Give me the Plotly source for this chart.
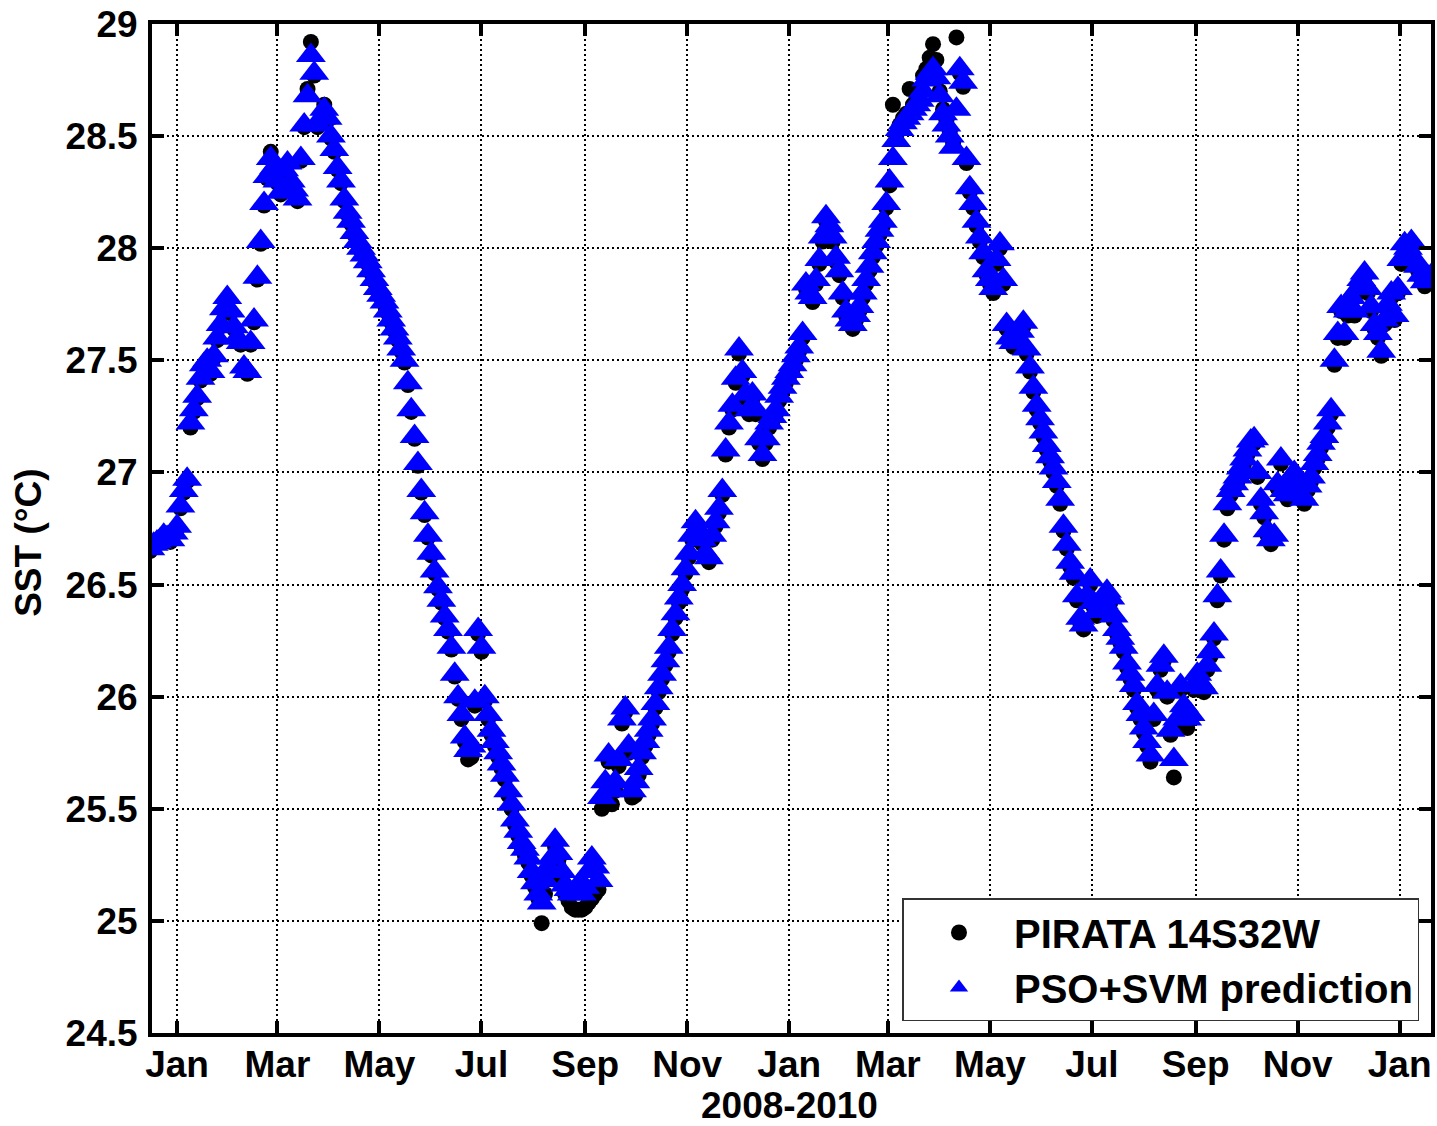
import pandas as pd
import plotly.graph_objects as go

# ---- data: one sample every 2 days, starting 2007-12-16 ----
start_date = "2007-12-16"
step = "2D"

pso_svm = [
    # Dec 2007 - Jan 2008
    26.66, 26.68, 26.69, 26.70, 26.72, 26.71, 26.70, 26.73, 26.76, 26.85,
    26.92, 26.97, 27.22, 27.28, 27.34, 27.42, 27.48, 27.50, 27.45, 27.52,
    27.60, 27.66, 27.73, 27.78, 27.72, 27.65, 27.60, 27.58, 27.47, 27.45,
    # Feb - Mar 2008
    27.58, 27.68, 27.87, 28.03, 28.20, 28.32, 28.40, 28.36, 28.30, 28.25,
    28.35, 28.38, 28.30, 28.26, 28.22, 28.40, 28.55, 28.68, 28.86, 28.78,
    28.55, 28.58, 28.62, 28.58, 28.50, 28.44, 28.36, 28.30, 28.22, 28.16,
    # Apr - May 2008
    28.12, 28.07, 28.03, 28.00, 27.97, 27.94, 27.90, 27.86, 27.82, 27.79,
    27.76, 27.72, 27.68, 27.64, 27.60, 27.55, 27.50, 27.40, 27.28, 27.16,
    27.04, 26.92, 26.82, 26.72, 26.64, 26.56, 26.49, 26.43, 26.36, 26.30,
    # Jun - Jul 2008
    26.22, 26.10, 26.00, 25.92, 25.82, 25.76, 25.78, 25.98, 26.30, 26.22,
    26.00, 25.92, 25.85, 25.80, 25.75, 25.70, 25.65, 25.58, 25.52, 25.45,
    25.40, 25.35, 25.32, 25.28, 25.22, 25.17, 25.12, 25.08, 25.18, 25.24,
    # Aug - Sep 2008
    25.28, 25.36, 25.30, 25.22, 25.16, 25.14, 25.12, 25.14, 25.16, 25.12,
    25.15, 25.22, 25.28, 25.24, 25.18, 25.55, 25.62, 25.74, 25.58, 25.62,
    25.72, 25.90, 25.95, 25.78, 25.58, 25.62, 25.68, 25.75, 25.80, 25.85,
    # Oct - Nov 2008
    25.90, 25.97, 26.04, 26.10, 26.16, 26.22, 26.30, 26.37, 26.44, 26.50,
    26.57, 26.64, 26.72, 26.78, 26.74, 26.70, 26.64, 26.62, 26.72, 26.78,
    26.84, 26.92, 27.10, 27.22, 27.30, 27.42, 27.55, 27.45, 27.35, 27.28,
    # Dec 2008 - Jan 2009
    27.35, 27.28, 27.15, 27.08, 27.15, 27.22, 27.25, 27.28, 27.34, 27.38,
    27.42, 27.45, 27.48, 27.52, 27.56, 27.62, 27.84, 27.80, 27.78, 27.86,
    27.95, 28.05, 28.14, 28.10, 28.05, 27.96, 27.90, 27.80, 27.72, 27.68,
    # Feb - Mar 2009
    27.66, 27.70, 27.74, 27.80, 27.86, 27.92, 27.98, 28.03, 28.08, 28.12,
    28.20, 28.30, 28.40, 28.48, 28.53, 28.56, 28.58, 28.60, 28.62, 28.64,
    28.66, 28.70, 28.75, 28.78, 28.80, 28.76, 28.68, 28.60, 28.55, 28.50,
    # Apr - May 2009
    28.45, 28.62, 28.80, 28.74, 28.40, 28.27, 28.20, 28.12, 28.05, 27.98,
    27.90, 27.86, 27.82, 27.95, 28.02, 27.86, 27.66, 27.60, 27.58, 27.60,
    27.63, 27.67, 27.55, 27.47, 27.38, 27.30, 27.24, 27.18, 27.12, 27.07,
    # Jun - Jul 2009
    27.02, 26.96, 26.88, 26.76, 26.68, 26.60, 26.55, 26.45, 26.35, 26.32,
    26.45, 26.52, 26.42, 26.38, 26.40, 26.42, 26.47, 26.44, 26.36, 26.30,
    26.26, 26.22, 26.15, 26.10, 26.05, 25.97, 25.92, 25.86, 25.80, 25.74,
    # Aug - Sep 2009
    25.92, 26.05, 26.14, 26.18, 26.02, 25.85, 25.72, 25.90, 26.05, 25.96,
    25.90, 25.92, 26.05, 26.10, 26.06, 26.04, 26.14, 26.20, 26.28, 26.45,
    26.56, 26.72, 26.86, 26.92, 26.95, 26.98, 27.02, 27.06, 27.10, 27.14,
    # Oct - Nov 2009
    27.15, 27.00, 26.88, 26.82, 26.74, 26.70, 26.72, 26.95, 27.06, 26.92,
    26.90, 26.96, 27.00, 26.94, 26.90, 26.88, 26.94, 26.98, 27.04, 27.08,
    27.13, 27.16, 27.22, 27.28, 27.50, 27.62, 27.74, 27.62, 27.72, 27.78,
    # Dec 2009 - Jan 2010
    27.72, 27.82, 27.86, 27.89, 27.82, 27.74, 27.66, 27.62, 27.54, 27.68,
    27.75, 27.80, 27.70, 27.82, 27.95, 28.02, 28.00, 28.03, 27.95, 27.92,
    27.88, 27.85, 27.87, 27.88,
]

pirata = [
    # Dec 2007 - Jan 2008
    26.65, 26.67, 26.68, 26.69, 26.71, 26.70, 26.69, 26.72, 26.75, 26.84,
    26.91, 26.96, 27.20, 27.27, 27.33, 27.41, 27.47, 27.49, 27.44, 27.51,
    27.59, 27.65, 27.72, 27.77, 27.71, 27.64, 27.59, 27.57, 27.46, 27.44,
    # Feb - Mar 2008
    27.57, 27.67, 27.86, 28.02, 28.19, 28.31, 28.43, 28.35, 28.29, 28.24,
    28.34, 28.37, 28.29, 28.25, 28.21, 28.39, 28.54, 28.71, 28.92, 28.77,
    28.54, 28.57, 28.64, 28.57, 28.49, 28.43, 28.35, 28.29, 28.21, 28.15,
    # Apr - May 2008
    28.11, 28.06, 28.02, 27.99, 27.96, 27.93, 27.89, 27.85, 27.81, 27.78,
    27.75, 27.71, 27.67, 27.63, 27.59, 27.54, 27.49, 27.39, 27.27, 27.15,
    27.03, 26.91, 26.81, 26.71, 26.63, 26.55, 26.48, 26.42, 26.35, 26.29,
    # Jun - Jul 2008
    26.21, 26.09, 25.99, 25.90, 25.80, 25.72, 25.73, 25.96, 26.28, 26.20,
    25.98, 25.90, 25.83, 25.78, 25.73, 25.68, 25.63, 25.56, 25.50, 25.43,
    25.38, 25.33, 25.29, 25.26, 25.20, 25.15, 25.10, 24.99, 25.12, 25.21,
    # Aug - Sep 2008
    25.25, 25.33, 25.27, 25.19, 25.12, 25.09, 25.06, 25.05, 25.05, 25.05,
    25.06, 25.08, 25.10, 25.12, 25.14, 25.50, 25.52, 25.71, 25.52, 25.58,
    25.69, 25.88, 25.93, 25.75, 25.55, 25.56, 25.65, 25.73, 25.78, 25.83,
    # Oct - Nov 2008
    25.88, 25.95, 26.02, 26.08, 26.14, 26.20, 26.28, 26.35, 26.42, 26.48,
    26.55, 26.62, 26.70, 26.76, 26.72, 26.68, 26.62, 26.60, 26.70, 26.76,
    26.82, 26.90, 27.08, 27.20, 27.28, 27.40, 27.53, 27.43, 27.33, 27.26,
    # Dec 2008 - Jan 2009
    27.33, 27.26, 27.13, 27.06, 27.13, 27.20, 27.23, 27.26, 27.32, 27.36,
    27.40, 27.43, 27.46, 27.50, 27.54, 27.60, 27.82, 27.78, 27.76, 27.84,
    27.93, 28.03, 28.12, 28.08, 28.03, 27.94, 27.88, 27.78, 27.70, 27.66,
    # Feb - Mar 2009
    27.64, 27.68, 27.72, 27.78, 27.84, 27.90, 27.96, 28.01, 28.06, 28.10,
    28.18, 28.28, 28.64, 28.50, 28.55, 28.58, 28.60, 28.71, 28.64, 28.66,
    28.68, 28.77, 28.80, 28.85, 28.91, 28.84, 28.70, 28.62, 28.57, 28.52,
    # Apr - May 2009
    28.47, 28.94, 28.78, 28.72, 28.38, 28.25, 28.18, 28.10, 28.03, 27.96,
    27.88, 27.84, 27.80, 27.93, 28.00, 27.84, 27.64, 27.58, 27.56, 27.58,
    27.61, 27.65, 27.53, 27.45, 27.36, 27.28, 27.22, 27.16, 27.10, 27.05,
    # Jun - Jul 2009
    27.00, 26.94, 26.86, 26.74, 26.66, 26.58, 26.53, 26.43, 26.33, 26.30,
    26.43, 26.50, 26.40, 26.36, 26.38, 26.40, 26.45, 26.42, 26.34, 26.28,
    26.24, 26.20, 26.13, 26.08, 26.03, 25.95, 25.90, 25.84, 25.78, 25.71,
    # Aug - Sep 2009
    25.90, 26.03, 26.12, 26.16, 26.00, 25.83, 25.64, 25.88, 26.03, 25.94,
    25.86, 25.90, 26.03, 26.08, 26.04, 26.02, 26.12, 26.18, 26.26, 26.43,
    26.54, 26.70, 26.84, 26.90, 26.93, 26.96, 27.00, 27.04, 27.08, 27.12,
    # Oct - Nov 2009
    27.13, 26.98, 26.86, 26.80, 26.72, 26.68, 26.70, 26.93, 27.04, 26.90,
    26.88, 26.94, 26.98, 26.92, 26.88, 26.86, 26.92, 26.96, 27.02, 27.06,
    27.11, 27.14, 27.20, 27.26, 27.48, 27.60, 27.72, 27.60, 27.70, 27.76,
    # Dec 2009 - Jan 2010
    27.70, 27.80, 27.84, 27.87, 27.80, 27.72, 27.64, 27.60, 27.52, 27.66,
    27.73, 27.78, 27.68, 27.80, 27.93, 28.00, 27.98, 28.01, 27.93, 27.90,
    27.86, 27.83, 27.85, 27.86,
]

tick_dates = ["2008-01-01", "2008-03-01", "2008-05-01", "2008-07-01",
              "2008-09-01", "2008-11-01", "2009-01-01", "2009-03-01",
              "2009-05-01", "2009-07-01", "2009-09-01", "2009-11-01",
              "2010-01-01"]
tick_text = ["Jan", "Mar", "May", "Jul", "Sep", "Nov", "Jan", "Mar",
             "May", "Jul", "Sep", "Nov", "Jan"]
y_ticks = [24.5, 25, 25.5, 26, 26.5, 27, 27.5, 28, 28.5, 29]

n = min(len(pso_svm), len(pirata))
dates = pd.date_range(start_date, periods=n, freq=step)

FONT = "Liberation Sans, Arial, sans-serif"

fig = go.Figure()
fig.add_trace(go.Scatter(
    x=dates, y=pirata[:n], mode="markers", name="PIRATA 14S32W",
    marker=dict(symbol="circle", size=16, color="black", line=dict(width=0)),
))
fig.add_trace(go.Scatter(
    x=dates, y=pso_svm[:n], mode="markers", name="PSO+SVM prediction",
    marker=dict(symbol="triangle-up", size=26, color="#0000ff",
                line=dict(width=0)),
))

axis_common = dict(
    showline=True, linecolor="black", linewidth=4, mirror="ticks",
    ticks="inside", ticklen=12, tickwidth=4, tickcolor="black",
    showgrid=True, gridcolor="black", gridwidth=2, griddash="2px,3px",
    zeroline=False,
    tickfont=dict(family=FONT, size=37, color="black", weight="bold"),
)

fig.update_xaxes(
    **axis_common,
    type="date",
    range=["2007-12-17", "2010-01-19 18:00"],
    tickmode="array", tickvals=tick_dates, ticktext=tick_text,
    ticklabelstandoff=-4,
)
fig.update_yaxes(
    **axis_common,
    range=[24.5, 29],
    tickmode="array", tickvals=y_ticks,
    ticktext=[f"{v:g}" for v in y_ticks],
    ticklabelstandoff=3,
)

title_font = dict(family=FONT, size=37, color="black", weight="bold")
fig.add_annotation(text="2008-2010", xref="paper", yref="paper",
                   x=0.4986, y=-0.0718, xanchor="center", yanchor="middle",
                   showarrow=False, font=title_font)
fig.add_annotation(text="SST (°C)", xref="paper", yref="paper",
                   x=-0.0961, y=0.4859, xanchor="center", yanchor="middle",
                   textangle=-90, showarrow=False, font=title_font)

fig.update_layout(
    width=1437, height=1126,
    margin=dict(l=152, r=5.5, t=24, b=92.5, autoexpand=False),
    paper_bgcolor="white", plot_bgcolor="white",
    showlegend=True,
    legend=dict(
        x=0.991, y=0.0114, xanchor="right", yanchor="bottom",
        bgcolor="white", bordercolor="#333333", borderwidth=1.5,
        font=dict(family=FONT, size=40, color="black", weight="bold"),
        itemwidth=100, tracegroupgap=0,
    ),
)

fig.write_html("out.html", config={"displayModeBar": False},
               post_script="document.body.style.margin='0px';")
